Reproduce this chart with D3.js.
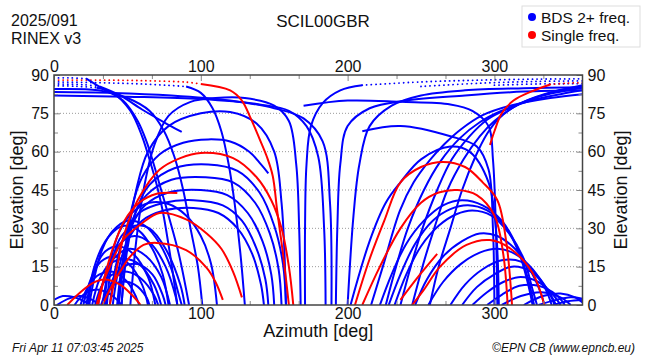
<!DOCTYPE html>
<html><head><meta charset="utf-8">
<script src="https://cdn.jsdelivr.net/npm/d3@7"></script>
<style>body{margin:0;background:#fff}text{font-family:"Liberation Sans",Arial,Helvetica,sans-serif;fill:#111}</style>
</head><body><svg id="c" width="650" height="360"></svg>
<script>
// ---- data ----
const xTickValues=[0,100,200,300];
const xMinorTicks=[33.33,66.67,133.33,166.67,233.33,266.67,333.33];
const yTickValues=[0,15,30,45,60,75,90];
const yMinorTicks=[7.5,22.5,37.5,52.5,67.5,82.5];
const gridLevels=[15,30,45,60,75];
const legendLabels=["BDS 2+ freq.","Single freq."];
const legendColors=["#0000ff","#ff0000"];

// near-zenith dotted segments [az, el]
const blueDotted=[
 [[0,88.8],[10,88.9],[22,88.6]],
 [[0,87.3],[30,87],[60,86.5],[90,85.5]],
 [[0,86.5],[20,86.2],[31,85.5]],
 [[0,85.8],[15,85.6],[29,85]],
 [[210,86],[250,87.3],[290,88],[330,88.4],[360,88.5]],
 [[250,85.5],[290,86.8],[330,87.5],[360,87.7]],
 [[300,86],[330,86.5],[360,86.6]]
];
const redDotted=[
 [[0,88],[30,88],[60,87.8],[90,87.2],[100,86.5]],
 [[338,86.3],[350,86.8],[360,87]]
];
// blue tracks [az, el]
const blueTracks=[
 // low cluster west
 [[0,2],[6,3.5],[14,3],[22,1],[25,0]],
 [[2,0],[10,2.5],[18,3.5],[26,2],[31,0]],
 [[14,0],[20,4],[28,6],[36,5],[43,2],[46,0]],
 [[18,0],[24,8],[31,12],[40,13],[50,9],[56,3],[58,0]],
 [[20,0],[25,10],[32,17],[41,19],[51,16],[60,8],[64,0]],
 [[23,0],[28,14],[35,21],[44,23],[54,20],[64,11],[69,0]],
 [[24,0],[28,12],[33,22],[40,29],[50,33],[62,31],[72,24],[80,14],[85,4],[87,0]],
 [[22,0],[27,14],[33,23],[41,29],[48,31],[58,29],[67,22],[74,12],[78,0]],
 [[26,0],[31,10],[38,16],[48,18],[58,16],[68,8],[73,0]],
 [[28,0],[33,8],[40,12],[50,13],[60,10],[68,4],[71,0]],
 [[30,0],[35,12],[42,19],[52,22],[63,19],[73,11],[79,0]],
 [[32,0],[37,6],[45,9],[55,8],[63,3],[65,0]],
 [[33,0],[38,15],[45,24],[55,27],[66,24],[76,15],[83,3],[84,0]],
 [[35,0],[40,10],[47,15],[57,16],[67,12],[74,4],[76,0]],
 [[36,0],[40,18],[46,27],[55,31],[65,30],[76,22],[86,8],[89,0]],
 [[34,0],[38,16],[44,28],[53,36],[65,40],[78,39.5],[90,35],[100,27],[107,16],[111,0]],
 // west stack
 [[40,0],[44,14],[50,25],[60,33],[75,37],[95,38],[112,36],[125,30],[135,20],[141,8],[143,0]],
 [[38,0],[42,15],[48,27],[58,36],[75,40],[95,41],[115,39],[128,33],[138,22],[144,10],[146,0]],
 [[43,0],[47,18],[53,31],[62,39],[78,44],[100,45],[118,43],[132,36],[142,25],[148,12],[150,0]],
 [[44,0],[48,20],[54,34],[63,43],[80,49],[103,50],[122,48],[137,40],[147,28],[153,14],[155,0]],
 [[46,0],[50,22],[56,37],[65,47],[82,53.5],[105,55],[125,52.5],[140,44],[150,31],[156,16],[158,0]],
 [[44,0],[48,20],[53,38],[60,50],[72,59],[88,63.5],[105,64.8],[120,64],[133,60],[141,55],[146,51.5]],
 [[46,0],[50,25],[56,45],[64,60],[78,70],[100,75],[120,75.5],[138,71],[150,60],[155,40],[157,20],[158,0]],
 [[52,0],[56,25],[61,45],[68,62],[78,74],[93,79.5],[110,81],[130,81],[150,78],[160,72],[165,55],[167,30],[168,0]],
 // from zenith, descending west
 [[29,85],[40,83],[52,76],[60,66],[65,57],[70,47],[74,37],[79,20],[84,0]],
 [[31,85.5],[45,82],[60,76.5],[75,71.5],[87,67.7]],
 [[22,88.6],[35,84],[47,80],[57,72],[63,64],[68,55],[73,45],[78,35],[85,20],[92,0]],
 [[0,84.5],[30,84],[50,81],[65,76],[75,68],[82,58],[88,45],[93,30],[98,15],[101,0]],
 [[90,85.5],[100,83],[108,77],[114,68],[119,55],[123,40],[127,20],[130,0]],
 // centre
 [[0,82],[50,81.5],[100,80.6],[140,78.5],[160,76],[172,70],[180,58],[184,30],[185,0]],
 [[0,83.3],[40,83],[80,82],[120,80],[150,77],[170,73],[183,64],[188,40],[189,0]],
 [[210,86],[195,84],[183,79],[175,70],[172,55],[171,30],[171,0]],
 [[360,84],[320,83.5],[280,82],[240,80],[215,77],[200,70],[195,55],[193,30],[192,0]],
 [[360,85.2],[320,84.8],[280,84],[250,82],[230,78],[215,70],[208,55],[204,35],[200,0]],
 // east, rising to zenith
 [[216,0],[224,15],[235.7,37],[245,48],[256,56.7],[266,63],[276.6,68.5],[292,74.3],[310.6,78],[338,81],[360,82.5]],
 [[226,0],[233,15],[241,30],[252,45],[263,56],[276,65],[290,71.5],[305,76],[325,80],[345,82.5],[360,84]],
 [[236,0],[243,15],[251,30],[261,45],[271,57],[283,66],[295,72.5],[310,77],[330,81.5],[360,85]],
 [[244,0],[251,15],[259,30],[268,45],[279,57],[290,66],[300,72],[315,78],[335,82.5],[360,86]],
 [[256,0],[262,15],[270,30],[278,45],[287,58],[295,67],[303,73],[318,79],[340,83.5],[360,85.5]],
 // east tall arcs
 [[170,78],[200,80],[236,79.5],[270,78.5],[285,76],[296,70],[299,57],[301,30],[302,0]],
 [[210,68],[236,70],[270,66],[288,62],[296,53],[299,30],[300,0]],
 [[202,0],[215,25],[226,40],[236,48],[250,57],[270,62],[283,60],[296,48],[301,30],[303,0]],
 // east stack
 [[222,0],[230,12],[240,24],[252,33],[265,39],[278,41],[292,39],[305,33],[316,22],[323,10],[327,0]],
 [[228,0],[236,12],[246,24],[258,33],[270,37.5],[282,39],[295,37],[307,31],[317,20],[323,8],[326,0]],
 [[232,0],[240,12],[250,23],[262,31],[274,35.5],[285,37],[298,35],[310,28],[320,18],[326,6],[329,0]],
 [[246,0],[254,10],[265,19],[278,25],[290,28],[302,27],[314,22],[325,13],[332,4],[334,0]],
 [[255,0],[265,9],[277,16],[290,20.5],[302,22],[314,20],[326,14],[335,6],[339,0]],
 [[270,0],[280,8],[292,14],[305,17.5],[318,17],[330,11],[338,4],[341,0]],
 [[278,0],[288,7],[300,12],[312,15],[325,13],[335,7],[342,0]],
 [[285,0],[295,5],[306,9],[318,11],[330,9],[340,4],[345,0]],
 [[295,0],[305,4],[317,7.5],[330,7.5],[342,4],[348,0]],
 [[305,0],[318,3.5],[332,5],[345,3],[352,0]],
 [[320,0],[333,3.5],[345,4.5],[355,3],[360,1]],
 [[330,0],[342,2],[352,3],[360,2.5]],
 [[340,0],[350,1.5],[360,2]]
];
// red tracks [az, el]
const redTracks=[
 [[100,86.5],[120,84],[128,80],[134,73],[140,65],[145,58],[149,50.5],[152,37],[156,20],[160,0]],
 [[38,0],[43,15],[48,28],[57,41],[72,53],[86,57.5],[100,59.5],[122,57.5],[138,50],[148,41],[155,30],[160,15],[163,0]],
 [[30,0],[34,10],[40,22],[48,33],[58,40],[70,43.5],[84,43.8]],
 [[29,0],[33,8],[38,15],[47,25.4],[60,32],[72,36],[90,33.5],[104,28],[114,22],[122,13],[128,3]],
 [[33,0],[38,6],[45,13],[52,19],[61,23.5],[70,24.3],[90,21.5],[104,14.5],[110,9],[115,2]],
 [[9,0],[18,5],[26,8.5],[34,10],[45,8],[53,4],[59,0]],
 [[297,62.6],[300,68],[305,75],[313,80],[325,83.5],[338,86.3]],
 [[205,0],[215,18],[225,33],[236,48],[250,54],[265,56],[280,54],[292,48],[302,41],[308,25],[312,0]],
 [[210,0],[222,15],[236,30],[250,40],[262,44],[275,45],[288,43],[300,35],[306,20],[309,0]],
 [[244,0],[252,6],[263,15],[281,23.5],[297,25.4],[311,22],[326,12.5],[334,0]],
 [[236,2],[248,11],[261,20]]
];

// ---- drawing ----
const L=54,R=582.5,T=75,B=305;
const svg=d3.select("#c");
const x=d3.scaleLinear().domain([0,360]).range([L,R]);
const y=d3.scaleLinear().domain([0,90]).range([B,T]);

svg.append("defs").append("clipPath").attr("id","clip")
 .append("rect").attr("x",L).attr("y",T).attr("width",R-L).attr("height",B-T);

// grid
svg.append("g").selectAll("line").data(gridLevels).join("line")
 .attr("x1",L).attr("x2",R).attr("y1",d=>y(d)).attr("y2",d=>y(d))
 .attr("stroke","#9a9a9a").attr("stroke-width",1).attr("stroke-dasharray","1,2");

const line=d3.line().x(d=>x(d[0])).y(d=>y(d[1])).curve(d3.curveCatmullRom.alpha(0.5));
const plot=svg.append("g").attr("clip-path","url(#clip)");
plot.selectAll(".bd").data(blueDotted).join("path").attr("d",line)
 .attr("fill","none").attr("stroke","#0000ff").attr("stroke-width",1.8)
 .attr("stroke-linecap","round").attr("stroke-dasharray","0.1,4.5");
plot.selectAll(".rd").data(redDotted).join("path").attr("d",line)
 .attr("fill","none").attr("stroke","#ff0000").attr("stroke-width",1.8)
 .attr("stroke-linecap","round").attr("stroke-dasharray","0.1,4.5");
plot.selectAll(".bt").data(blueTracks).join("path").attr("d",line)
 .attr("fill","none").attr("stroke","#0000ff").attr("stroke-width",2);
plot.selectAll(".rt").data(redTracks).join("path").attr("d",line)
 .attr("fill","none").attr("stroke","#ff0000").attr("stroke-width",2);

// axes
function styleAxis(g){g.select(".domain").remove();g.selectAll(".tick line").attr("stroke","#888");
 g.selectAll("text").style("font-size","16px").attr("fill","#111");}
svg.append("g").attr("transform",`translate(0,${B})`)
 .call(d3.axisBottom(x).tickValues(xTickValues).tickSizeInner(-6).tickPadding(3).tickFormat(d3.format("d"))).call(styleAxis);
svg.append("g").attr("transform",`translate(0,${T})`)
 .call(d3.axisTop(x).tickValues(xTickValues).tickSizeInner(-6).tickPadding(3).tickFormat(d3.format("d"))).call(styleAxis);
svg.append("g").attr("transform",`translate(0,${B})`)
 .call(d3.axisBottom(x).tickValues(xMinorTicks).tickSizeInner(-4).tickFormat("")).call(styleAxis);
svg.append("g").attr("transform",`translate(0,${T})`)
 .call(d3.axisTop(x).tickValues(xMinorTicks).tickSizeInner(-4).tickFormat("")).call(styleAxis);
svg.append("g").attr("transform",`translate(${L},0)`)
 .call(d3.axisLeft(y).tickValues(yTickValues).tickSizeInner(-6).tickPadding(5).tickFormat(d3.format("d"))).call(styleAxis);
svg.append("g").attr("transform",`translate(${R},0)`)
 .call(d3.axisRight(y).tickValues(yTickValues).tickSizeInner(-6).tickPadding(5).tickFormat(d3.format("d"))).call(styleAxis);
svg.append("g").attr("transform",`translate(${L},0)`)
 .call(d3.axisLeft(y).tickValues(yMinorTicks).tickSizeInner(-4).tickFormat("")).call(styleAxis);
svg.append("g").attr("transform",`translate(${R},0)`)
 .call(d3.axisRight(y).tickValues(yMinorTicks).tickSizeInner(-4).tickFormat("")).call(styleAxis);

// frame
svg.append("rect").attr("x",L).attr("y",T).attr("width",R-L).attr("height",B-T)
 .attr("fill","none").attr("stroke","#444").attr("stroke-width",1.5);

// titles
svg.append("text").attr("x",(L+R)/2).attr("y",337).attr("text-anchor","middle").style("font-size","18px").text("Azimuth [deg]");
svg.append("text").attr("transform",`translate(23,${(T+B)/2}) rotate(-90)`).attr("text-anchor","middle").style("font-size","18px").text("Elevation [deg]");
svg.append("text").attr("transform",`translate(627,${(T+B)/2}) rotate(-90)`).attr("text-anchor","middle").style("font-size","18px").text("Elevation [deg]");
svg.append("text").attr("x",323).attr("y",27).attr("text-anchor","middle").style("font-size","17px").text("SCIL00GBR");
svg.append("text").attr("x",11).attr("y",26).style("font-size","16px").text("2025/091");
svg.append("text").attr("x",11).attr("y",44).style("font-size","16px").text("RINEX v3");
svg.append("text").attr("x",12).attr("y",352).style("font-size","12px").style("font-style","italic").text("Fri Apr 11 07:03:45 2025");
svg.append("text").attr("x",635).attr("y",352).attr("text-anchor","end").style("font-size","12px").style("font-style","italic").text("©EPN CB (www.epncb.eu)");

// legend
const lg=svg.append("g");
lg.append("rect").attr("x",522).attr("y",6).attr("width",118).attr("height",41).attr("fill","#fff").attr("stroke","#ddd");
lg.selectAll("circle").data(legendColors).join("circle").attr("cx",532).attr("cy",(d,i)=>17+i*18).attr("r",4).attr("fill",d=>d);
lg.selectAll("text").data(legendLabels).join("text").attr("x",541).attr("y",(d,i)=>22.5+i*18).style("font-size","15.5px").text(d=>d);
</script></body></html>
